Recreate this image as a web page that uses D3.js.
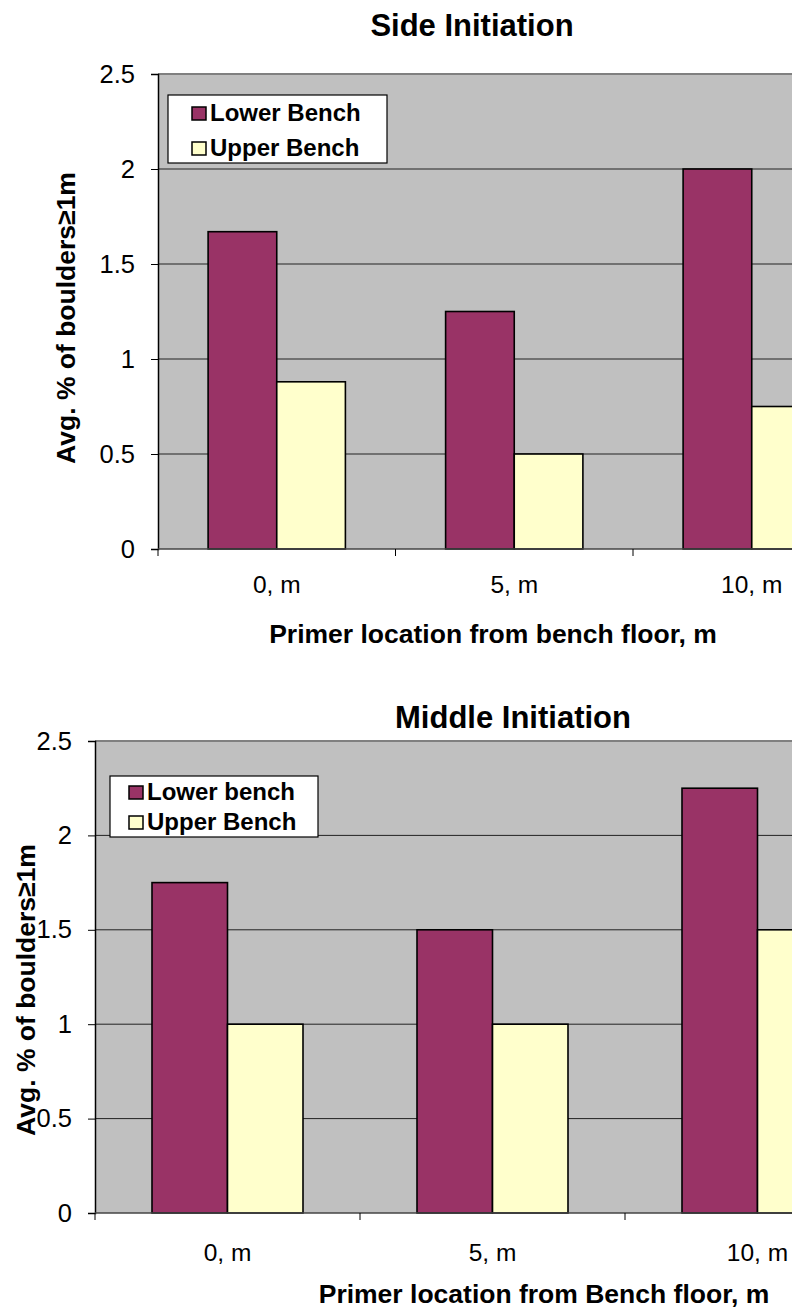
<!DOCTYPE html>
<html lang="en">
<head>
<meta charset="UTF-8">
<title>Boulders</title>
<script src="https://cdn.jsdelivr.net/npm/d3@7/dist/d3.min.js"></script>
<style>
  body { margin: 0; background: #fff; }
  svg { display: block; font-family: Arial, "Liberation Sans", sans-serif; }
</style>
</head>
<body>
<div id="chart"></div>
<script>
// data
const categories = ["0, m", "5, m", "10, m"];
const yTicks = [0, 0.5, 1, 1.5, 2, 2.5];

const sideSeries = ["Lower Bench", "Upper Bench"];
const sideLower = [1.67, 1.25, 2.0];
const sideUpper = [0.88, 0.5, 0.75];

const middleSeries = ["Lower bench", "Upper Bench"];
const middleLower = [1.75, 1.5, 2.25];
const middleUpper = [1.0, 1.0, 1.5];

const colors = ["#993366", "#FFFFCC"];

const W = 792, H = 1313;
const svg = d3.select("#chart").append("svg").attr("width", W).attr("height", H);

function drawChart(o) {
    const g = svg.append("g");
    const x = d3.scaleBand().domain(categories).range([o.left, o.left + 3 * o.step]).padding(0);
    const x1 = d3.scaleBand().domain(o.series).range([0, x.bandwidth()])
        .paddingInner(0).paddingOuter(o.outer);
    const y = d3.scaleLinear().domain([0, 2.5]).range([o.bottom, o.top]);

    // plot background
    g.append("rect").attr("x", o.left).attr("y", o.top)
        .attr("width", W - o.left).attr("height", o.bottom - o.top)
        .attr("fill", "#C0C0C0");
    g.append("line").attr("x1", o.left).attr("x2", W).attr("y1", o.top).attr("y2", o.top)
        .attr("stroke", "#808080").attr("stroke-width", 2);

    // gridlines
    g.selectAll(".grid").data(yTicks.filter(d => d > 0 && d < 2.5)).enter().append("line")
        .attr("x1", o.left).attr("x2", W)
        .attr("y1", d => y(d)).attr("y2", d => y(d))
        .attr("stroke", "#222").attr("stroke-width", 1);

    // bars
    const rows = categories.map((c, i) => ({ c, vals: [o.lower[i], o.upper[i]] }));
    const grp = g.selectAll(".grp").data(rows).enter().append("g")
        .attr("transform", d => `translate(${x(d.c)},0)`);
    grp.selectAll("rect").data(d => d.vals.map((v, j) => ({ s: o.series[j], v, j }))).enter()
        .append("rect")
        .attr("x", d => x1(d.s))
        .attr("y", d => y(d.v))
        .attr("width", x1.bandwidth())
        .attr("height", d => y(0) - y(d.v))
        .attr("fill", d => colors[d.j])
        .attr("stroke", "#000").attr("stroke-width", 1.6);

    // y axis
    const ya = g.append("g").attr("transform", `translate(${o.left},0)`)
        .call(d3.axisLeft(y).tickValues(yTicks).tickFormat(d3.format("")).tickSize(7).tickPadding(16));
    ya.select(".domain").attr("stroke", "#000").attr("stroke-width", 1.5);
    ya.selectAll(".tick line").attr("stroke", "#000");
    ya.selectAll("text").attr("font-size", 25.5).attr("fill", "#000")
        .attr("font-family", "Arial, 'Liberation Sans', sans-serif");

    // x axis: line, ticks at category boundaries, labels centred
    g.append("line").attr("x1", o.left).attr("x2", W).attr("y1", o.bottom).attr("y2", o.bottom)
        .attr("stroke", "#444").attr("stroke-width", 1.5);
    const xa = g.append("g").attr("transform", `translate(0,${o.bottom})`)
        .call(d3.axisBottom(x).tickSize(0).tickPadding(o.labelPad));
    xa.select(".domain").remove();
    xa.selectAll("text").attr("font-size", 24.5).attr("fill", "#000")
        .attr("font-family", "Arial, 'Liberation Sans', sans-serif");
    g.selectAll(".btick").data(categories.concat(["end"])).enter().append("line")
        .attr("x1", (d, i) => o.left + i * x.step()).attr("x2", (d, i) => o.left + i * x.step())
        .attr("y1", o.bottom).attr("y2", o.bottom + 7)
        .attr("stroke", "#000");

    // titles
    g.append("text").attr("x", o.titleX).attr("y", o.titleY).attr("text-anchor", "middle")
        .attr("font-size", 31).attr("font-weight", "bold").text(o.title);
    g.append("text").attr("x", o.xTitleX).attr("y", o.xTitleY).attr("text-anchor", "middle")
        .attr("font-size", 26.5).attr("font-weight", "bold").text(o.xTitle);
    g.append("text").attr("transform", `translate(${o.yTitleX},${o.yTitleY}) rotate(-90)`)
        .attr("text-anchor", "middle")
        .attr("font-size", 26.5).attr("font-weight", "bold").text("Avg. % of boulders\u22651m");

    // legend
    const L = o.legend;
    g.append("rect").attr("x", L.x).attr("y", L.y).attr("width", L.w).attr("height", L.h)
        .attr("fill", "#fff").attr("stroke", "#000").attr("stroke-width", 1.2);
    const li = g.selectAll(".leg").data(o.series).enter().append("g")
        .attr("transform", (d, i) => `translate(${L.x + L.sx},${L.y + L.row0 + i * L.dy})`);
    li.append("rect").attr("x", 0).attr("y", -14).attr("width", 14).attr("height", 13)
        .attr("fill", (d, i) => colors[i]).attr("stroke", "#000").attr("stroke-width", 1.5);
    li.append("text").attr("x", 18).attr("y", 0).attr("font-size", 24).attr("font-weight", "bold")
        .text(d => d);
}

drawChart({
    left: 158, step: 237.5, outer: 0.73, top: 74, bottom: 549, labelPad: 27,
    series: sideSeries, lower: sideLower, upper: sideUpper,
    title: "Side Initiation", titleX: 472, titleY: 36,
    xTitle: "Primer location from bench floor, m", xTitleX: 493, xTitleY: 643,
    yTitleX: 75, yTitleY: 318,
    legend: { x: 168, y: 95, w: 219, h: 68, sx: 24, row0: 26, dy: 35 }
});

drawChart({
    left: 95, step: 265, outer: 0.755, top: 741, bottom: 1213, labelPad: 31,
    series: middleSeries, lower: middleLower, upper: middleUpper,
    title: "Middle Initiation", titleX: 513, titleY: 728,
    xTitle: "Primer location from Bench floor, m", xTitleX: 544, xTitleY: 1303,
    yTitleX: 35, yTitleY: 990,
    legend: { x: 110, y: 776, w: 208, h: 61, sx: 19, row0: 24, dy: 30 }
});
</script>
</body>
</html>
